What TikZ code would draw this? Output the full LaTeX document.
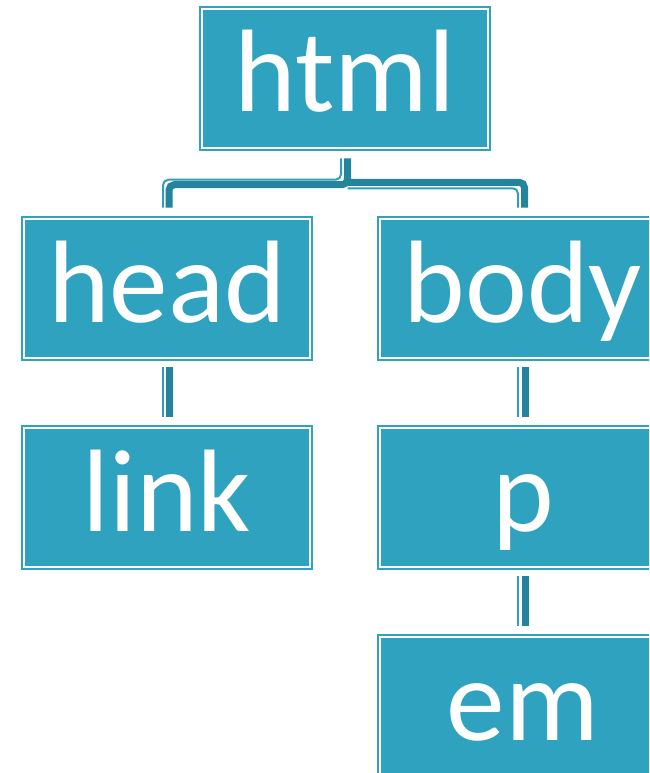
\documentclass[tikz,border=0pt]{standalone}
\usepackage{fontspec}
\setmainfont{Carlito}
\definecolor{boxfill}{RGB}{46,162,191}
\definecolor{linkdark}{RGB}{35,132,156}
\definecolor{linklight}{RGB}{46,158,186}
\tikzset{
  treebox/.style={
    rectangle, fill=boxfill, draw=none, inner sep=0pt,
    minimum width=219pt, minimum height=108.75pt,
    text height=79.5pt, text depth=29.25pt,
    text=white, font=\fontsize{88}{90}\selectfont,
    path picture={\draw[white, line width=1pt]
      ([shift={(2.2pt,-2.2pt)}]path picture bounding box.north west) rectangle
      ([shift={(-2.2pt,2.2pt)}]path picture bounding box.south east);}
  },
  linkthick/.style={draw=linkdark, line width=5.25pt, rounded corners=4pt},
  linkthin/.style={draw=linklight, line width=1.5pt, rounded corners=4pt}
}
\begin{document}
\begin{tikzpicture}[x=0.75pt, y=-0.75pt]
  \clip (0,0) rectangle (649,773);
  \fill[white] (0,0) rectangle (649,773);

  % tree nodes, positions in pixel units (y grows downwards)
  \node[treebox] (html) at (345,78.5)  {html};
  \node[treebox] (head) at (167,288.5) {head};
  \node[treebox] (body) at (523,288.5) {body};
  \node[treebox] (link) at (167,497.5) {link};
  \node[treebox] (p)    at (523,497.5) {p};
  \node[treebox] (em)   at (523,706.5) {em};

  % html -> head, body (light thin strand beside a dark thick strand)
  \draw[linkthin]  ([shift={(-4,7)}]html.south) |- ([shift={(-4,-36)}]head.north) -- ([shift={(-4,-8)}]head.north);
  \draw[linkthin]  ([shift={(2.5,37)}]html.south) -| ([shift={(-5,-8)}]body.north);
  \draw[linkthick] ([shift={(2.5,7)}]html.south) |- ([shift={(2,-31)}]head.north) -- ([shift={(2,-8)}]head.north);
  \draw[linkthick] ([shift={(2.5,31)}]html.south) -| ([shift={(1.5,-8)}]body.north);

  % head -> link
  \draw[linkthin]  ([shift={(-4,6)}]head.south) -- ([shift={(-4,-8)}]link.north);
  \draw[linkthick] ([shift={(2,6)}]head.south) -- ([shift={(2,-8)}]link.north);

  % body -> p
  \draw[linkthin]  ([shift={(-5,6)}]body.south) -- ([shift={(-5,-8)}]p.north);
  \draw[linkthick] ([shift={(2.5,6)}]body.south) -- ([shift={(2.5,-8)}]p.north);

  % p -> em
  \draw[linkthin]  ([shift={(-5,6)}]p.south) -- ([shift={(-5,-8)}]em.north);
  \draw[linkthick] ([shift={(2.5,6)}]p.south) -- ([shift={(2.5,-8)}]em.north);
\end{tikzpicture}
\end{document}
